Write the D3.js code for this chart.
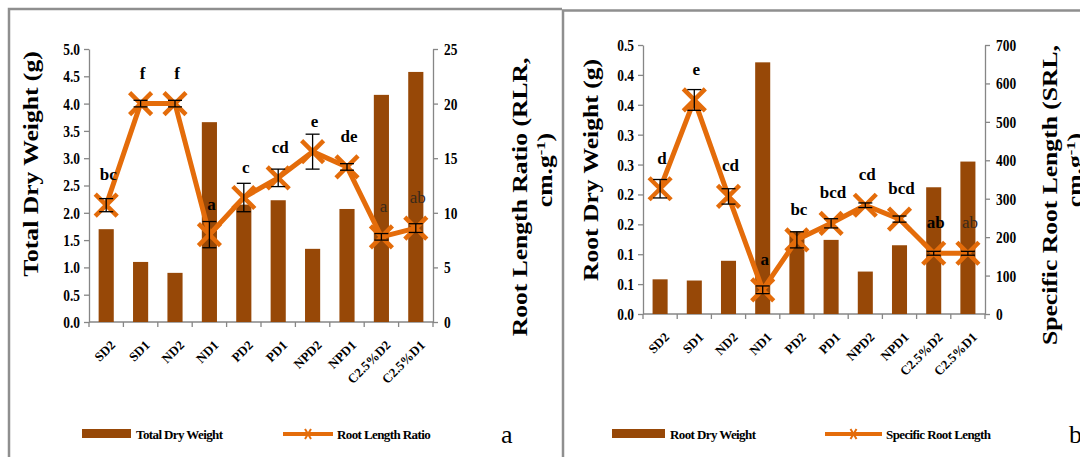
<!DOCTYPE html>
<html>
<head>
<meta charset="utf-8">
<script src="https://cdn.jsdelivr.net/npm/d3@7"></script>
<style>
  html, body { margin: 0; padding: 0; background: #fff; }
  svg { display: block; font-family: "Liberation Serif", "Times New Roman", serif; }
</style>
</head>
<body>
<svg id="chart" width="1080" height="457"></svg>
<script>
// treatments, shared by both panels
const categories = ['SD2', 'SD1', 'ND2', 'ND1', 'PD2', 'PD1', 'NPD2', 'NPD1', 'C2.5%D2', 'C2.5%D1'];

// panel a
const totalDryWeight = [1.70, 1.10, 0.90, 3.66, 2.15, 2.23, 1.34, 2.07, 4.16, 4.58];
const rootLengthRatio = [10.7, 20.0, 20.0, 8.0, 11.4, 13.2, 15.6, 14.2, 7.8, 8.6];
const rootLengthRatioErr = [0.6, 0.3, 0.3, 1.2, 1.3, 0.8, 1.6, 0.3, 0.3, 0.4];
const rootLengthRatioLetters = ['bc', 'f', 'f', 'a', 'c', 'cd', 'e', 'de', 'a', 'ab'];
const tdwTicks = [0, 0.5, 1.0, 1.5, 2.0, 2.5, 3.0, 3.5, 4.0, 4.5, 5.0];
const rlrTicks = [0, 5, 10, 15, 20, 25];

// panel b
const rootDryWeight = [0.058, 0.056, 0.089, 0.421, 0.138, 0.124, 0.071, 0.115, 0.212, 0.255];
const specificRootLength = [326, 557, 306, 63, 193, 236, 283, 247, 158, 158];
const specificRootLengthErr = [24, 27, 20, 10, 21, 12, 6, 8, 5, 5];
const specificRootLengthLetters = ['d', 'e', 'cd', 'a', 'bc', 'bcd', 'cd', 'bcd', 'ab', 'ab'];
const rdwTicks = [0, 0.05, 0.10, 0.15, 0.20, 0.25, 0.30, 0.35, 0.40, 0.45];
const rdwTickLabels = ['0.0', '0.1', '0.1', '0.2', '0.2', '0.3', '0.3', '0.4', '0.4', '0.5'];
const srlTicks = [0, 100, 200, 300, 400, 500, 600, 700];

const BAR = '#974807';
const LINE = '#E46C0A';
const AXIS = '#868686';

const svg = d3.select('#chart');

// panel frames
svg.append('path')
  .attr('d', 'M9,460 V9 H562')
  .attr('fill', 'none').attr('stroke', '#8f8f8f').attr('stroke-width', 2.5);
svg.append('path')
  .attr('d', 'M563,460 V10.5 H1085')
  .attr('fill', 'none').attr('stroke', '#8f8f8f').attr('stroke-width', 2.5);

function drawPanel(p) {
  const g = svg.append('g');

  const x = d3.scaleBand()
    .domain(categories)
    .range([p.x0, p.x1])
    .paddingInner(0.56)
    .paddingOuter(0.28);
  const yL = d3.scaleLinear().domain(p.leftDomain).range([p.yBot, p.yTop]);
  const yR = d3.scaleLinear().domain(p.rightDomain).range([p.yBot, p.yTop]);
  const cx = c => x(c) + x.bandwidth() / 2;

  // left axis
  const axL = g.append('g')
    .attr('transform', `translate(${p.x0},0)`)
    .call(d3.axisLeft(yL).tickValues(p.leftTicks).tickSize(5).tickSizeOuter(0)
      .tickFormat((d, i) => p.leftLabels[i]));
  // right axis
  const axR = g.append('g')
    .attr('transform', `translate(${p.x1},0)`)
    .call(d3.axisRight(yR).tickValues(p.rightTicks).tickSize(5).tickSizeOuter(0));
  [axL, axR].forEach(a => {
    a.selectAll('path, line').attr('stroke', AXIS).attr('stroke-width', 1.3);
    a.selectAll('text')
      .attr('fill', '#000')
      .style('font-family', '"Liberation Serif", serif')
      .style('font-weight', 'bold')
      .style('font-size', '16px')
      .attr('transform', 'scale(0.84,1)');
  });
  axL.selectAll('text').attr('x', -9 / 0.84).attr('dy', '0.34em');
  axR.selectAll('text').attr('x', 11 / 0.84).attr('dy', '0.34em');

  // x axis with ticks at category boundaries
  const axX = g.append('g');
  axX.append('line')
    .attr('x1', p.x0).attr('x2', p.x1).attr('y1', p.yBot).attr('y2', p.yBot)
    .attr('stroke', AXIS).attr('stroke-width', 1.3);
  axX.selectAll('.bt')
    .data(d3.range(categories.length + 1))
    .enter().append('line')
    .attr('x1', i => p.x0 + i * x.step()).attr('x2', i => p.x0 + i * x.step())
    .attr('y1', p.yBot).attr('y2', p.yBot + 5)
    .attr('stroke', AXIS).attr('stroke-width', 1.3);
  axX.selectAll('.xl')
    .data(categories)
    .enter().append('text')
    .attr('transform', d => `translate(${cx(d) + 10},${p.yBot + 24}) rotate(-45)`)
    .attr('text-anchor', 'end')
    .style('font-weight', 'bold')
    .style('font-size', '13px')
    .text(d => d);

  // bars
  g.selectAll('.bar')
    .data(p.bars)
    .enter().append('rect')
    .attr('x', (d, i) => x(categories[i]))
    .attr('width', x.bandwidth())
    .attr('y', d => yL(d))
    .attr('height', d => p.yBot - yL(d))
    .attr('fill', BAR);

  // line
  const pts = p.line.map((v, i) => ({ c: categories[i], v: v, e: p.err[i], t: p.letters[i] }));
  g.append('path')
    .datum(pts)
    .attr('d', d3.line().x(d => cx(d.c)).y(d => yR(d.v)))
    .attr('fill', 'none')
    .attr('stroke', LINE)
    .attr('stroke-width', 5)
    .attr('stroke-linejoin', 'round');

  // markers
  const s = 11;
  g.selectAll('.mk')
    .data(pts)
    .enter().append('path')
    .attr('d', d => {
      const a = cx(d.c), b = yR(d.v);
      return `M${a - s},${b - s}L${a + s},${b + s}M${a - s},${b + s}L${a + s},${b - s}`;
    })
    .attr('stroke', LINE)
    .attr('stroke-width', 4.5);

  // error bars
  const eb = g.selectAll('.eb').data(pts).enter().append('g');
  eb.append('line')
    .attr('x1', d => cx(d.c)).attr('x2', d => cx(d.c))
    .attr('y1', d => yR(d.v - d.e)).attr('y2', d => yR(d.v + d.e));
  eb.append('line')
    .attr('x1', d => cx(d.c) - 7).attr('x2', d => cx(d.c) + 7)
    .attr('y1', d => yR(d.v + d.e)).attr('y2', d => yR(d.v + d.e));
  eb.append('line')
    .attr('x1', d => cx(d.c) - 7).attr('x2', d => cx(d.c) + 7)
    .attr('y1', d => yR(d.v - d.e)).attr('y2', d => yR(d.v - d.e));
  eb.selectAll('line').attr('stroke', '#000').attr('stroke-width', 1.3);

  // significance letters
  g.selectAll('.lt')
    .data(pts)
    .enter().append('text')
    .attr('x', d => cx(d.c) + 2)
    .attr('y', d => yR(d.v) - 25)
    .attr('text-anchor', 'middle')
    .style('font-size', '17px')
    .style('font-weight', (d, i) => p.plain.includes(i) ? 'normal' : 'bold')
    .attr('fill', (d, i) => p.plain.includes(i) ? '#3a2a1a' : '#000')
    .text(d => d.t);

  // axis titles, stretched along the text as in the original figure
  const title = (tx, ty, size) => g.append('text')
    .attr('transform', `translate(${tx},${ty}) rotate(-90) scale(1.28,1)`)
    .attr('text-anchor', 'middle')
    .style('font-size', size)
    .style('font-weight', 'bold');
  title(p.titleL.x, p.titleL.y, '20px').text(p.titleL.text);
  title(p.titleR.x, p.titleR.y, '20px').text(p.titleR.text);
  const t2 = title(p.titleR.x + 25, p.titleR.y2, '20px');
  t2.append('tspan').text('cm.g');
  t2.append('tspan').attr('baseline-shift', 'super').style('font-size', '13px').text('-1');
  t2.append('tspan').text(')');

  // legend
  const lg = g.append('g');
  lg.append('rect')
    .attr('x', p.leg.bx).attr('y', 429).attr('width', p.leg.bw).attr('height', 9)
    .attr('fill', BAR);
  lg.append('text')
    .attr('x', p.leg.bx + p.leg.bw + 5).attr('y', 439)
    .style('font-size', '13px').style('font-weight', 'bold')
    .style('letter-spacing', '-0.6px')
    .text(p.leg.bar);
  lg.append('line')
    .attr('x1', p.leg.lx).attr('x2', p.leg.lx + p.leg.lw).attr('y1', 434).attr('y2', 434)
    .attr('stroke', LINE).attr('stroke-width', 4);
  const mx = p.leg.lx + p.leg.lw / 2;
  lg.append('path')
    .attr('d', `M${mx - 3},${429}L${mx + 3},${439}M${mx - 3},${439}L${mx + 3},${429}`)
    .attr('stroke', LINE).attr('stroke-width', 2);
  lg.append('text')
    .attr('x', p.leg.lx + p.leg.lw + 4).attr('y', 439)
    .style('font-size', '13px').style('font-weight', 'bold')
    .style('letter-spacing', '-0.6px')
    .text(p.leg.line);
  lg.append('text')
    .attr('x', p.leg.tagX).attr('y', 443)
    .style('font-size', '26px')
    .text(p.leg.tag);
}

drawPanel({
  x0: 89, x1: 433, yTop: 49, yBot: 322,
  leftDomain: [0, 5], rightDomain: [0, 25],
  leftTicks: tdwTicks, leftLabels: tdwTicks.map(d3.format('.1f')),
  rightTicks: rlrTicks,
  bars: totalDryWeight, line: rootLengthRatio, err: rootLengthRatioErr,
  letters: rootLengthRatioLetters, plain: [8, 9],
  titleL: { x: 38, y: 164, text: 'Total Dry Weight (g)' },
  titleR: { x: 527, y: 197, y2: 170, text: 'Root Length Ratio (RLR,' },
  leg: { bx: 82, bw: 49, bar: 'Total Dry Weight', lx: 283, lw: 50, line: 'Root Length Ratio', tag: 'a', tagX: 501 }
});

drawPanel({
  x0: 643, x1: 985, yTop: 45, yBot: 314,
  leftDomain: [0, 0.45], rightDomain: [0, 700],
  leftTicks: rdwTicks, leftLabels: rdwTickLabels,
  rightTicks: srlTicks,
  bars: rootDryWeight, line: specificRootLength, err: specificRootLengthErr,
  letters: specificRootLengthLetters, plain: [9],
  titleL: { x: 598, y: 170, text: 'Root Dry Weight (g)' },
  titleR: { x: 1057, y: 195, y2: 170, text: 'Specific Root Length (SRL,' },
  leg: { bx: 612, bw: 53, bar: 'Root Dry Weight', lx: 825, lw: 57, line: 'Specific Root Length', tag: 'b', tagX: 1069 }
});
</script>
</body>
</html>
